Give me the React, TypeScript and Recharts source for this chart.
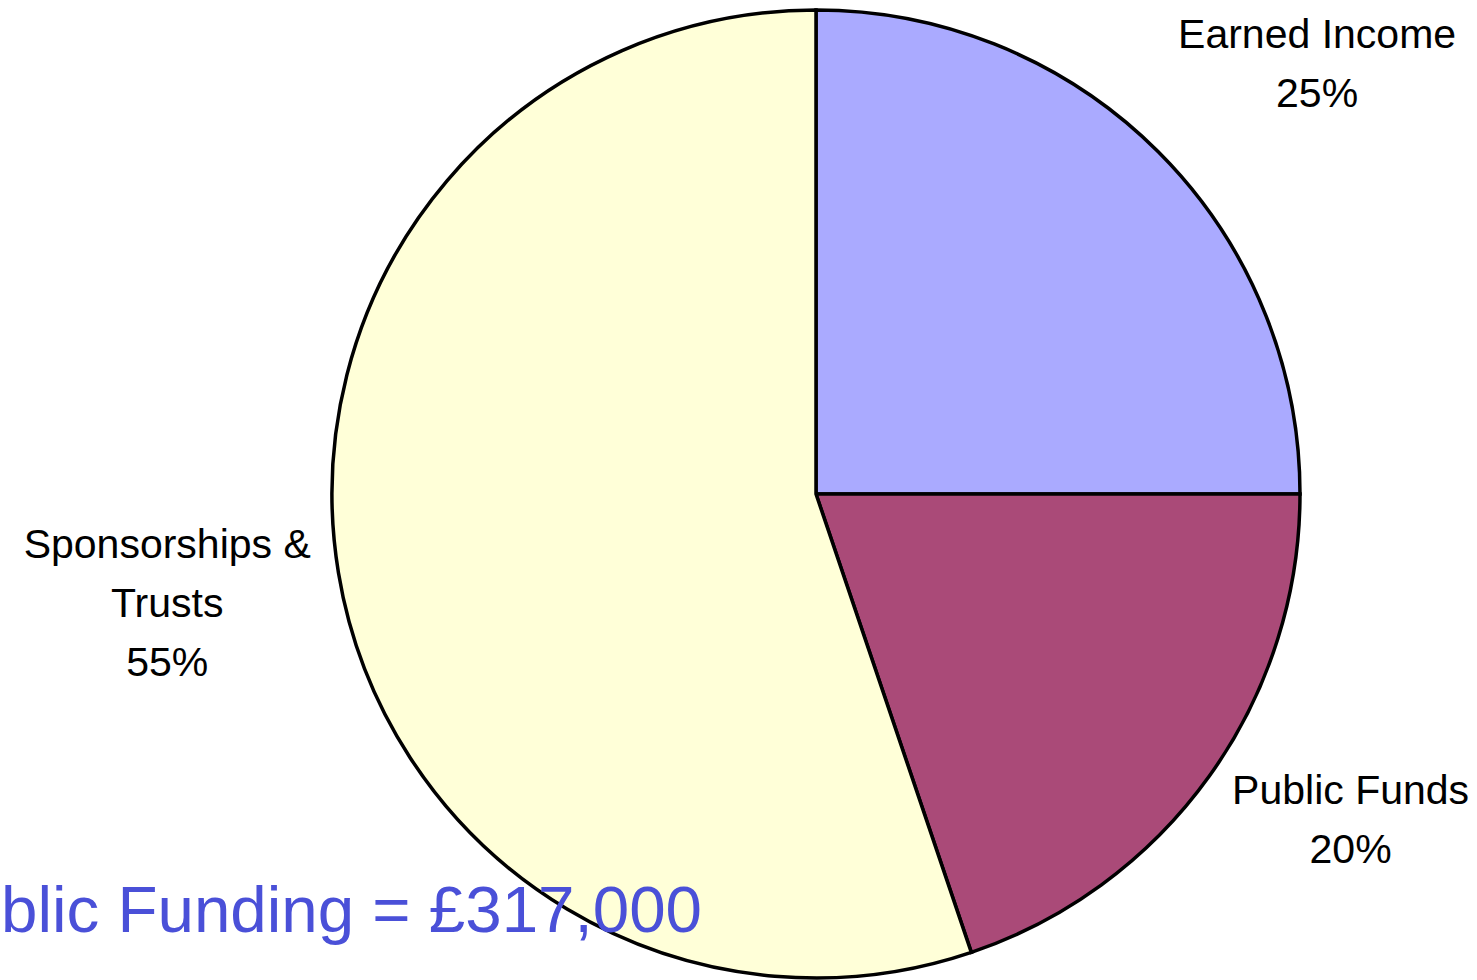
import React from 'react';
import { PieChart, Pie, Cell } from 'recharts';

const categories = ['Earned Income', 'Public Funds', 'Sponsorships & Trusts'];
const shares = [25, 19.8, 55.2];
const sliceColors = ['#AAAAFF', '#AA4A78', '#FFFFD8'];
const title = 'Public Funding = £317,000';

const data = categories.map((name, i) => ({ name, value: shares[i] }));

const FONT = '"Liberation Sans", Arial, sans-serif';
const LABEL_SIZE = 41;
const LINE_GAP = 59;

let ctx: CanvasRenderingContext2D | null = null;
function textWidth(s: string) {
  if (!ctx) ctx = document.createElement('canvas').getContext('2d');
  if (!ctx) return s.length * LABEL_SIZE * 0.55;
  ctx.font = `${LABEL_SIZE}px ${FONT}`;
  return ctx.measureText(s).width;
}

// word-wrap a category name the way the original labels break
function wrap(name: string, maxWidth: number) {
  const lines: string[] = [];
  let cur = '';
  for (const word of name.split(' ')) {
    const next = cur ? `${cur} ${word}` : word;
    if (cur && textWidth(next) > maxWidth) {
      lines.push(cur);
      cur = word;
    } else {
      cur = next;
    }
  }
  if (cur) lines.push(cur);
  return lines;
}

function renderLabel(props: any) {
  const { cx, cy, midAngle, outerRadius, percent, name } = props;
  const rad = (midAngle * Math.PI) / 180;
  const cos = Math.cos(rad);
  const sin = Math.sin(rad);
  const lines = [...wrap(name, 310), `${Math.round(percent * 100)}%`];
  const w = Math.max(...lines.map(textWidth));
  const x = cx + (outerRadius + 28) * cos + (Math.sign(cos) * w) / 2;
  // anchor sits between the first two lines
  const y = cy - outerRadius * 1.21 * sin - 17;
  const first = y - LINE_GAP / 2 + LABEL_SIZE * 0.36;
  return (
    <text textAnchor="middle" fontFamily={FONT} fontSize={LABEL_SIZE} fill="#000">
      {lines.map((line, i) => (
        <tspan key={i} x={x} y={first + i * LINE_GAP}>
          {line}
        </tspan>
      ))}
    </text>
  );
}

export default function App() {
  return (
    <div style={{ position: 'absolute', left: 0, top: 0, width: 1477, height: 980, background: '#fff' }}>
      <PieChart width={1477} height={980} margin={{ top: 0, right: 0, bottom: 0, left: 0 }}>
        <Pie
          data={data}
          dataKey="value"
          nameKey="name"
          cx={816}
          cy={494}
          outerRadius={484}
          startAngle={90}
          endAngle={-270}
          stroke="#000"
          strokeWidth={3.5}
          label={renderLabel}
          labelLine={false}
          isAnimationActive={false}
        >
          {data.map((d, i) => (
            <Cell key={d.name} fill={sliceColors[i]} />
          ))}
        </Pie>
      </PieChart>
      <svg width={1477} height={980} style={{ position: 'absolute', left: 0, top: 0, pointerEvents: 'none' }}>
        <text x={702} y={932} textAnchor="end" fontFamily={FONT} fontSize={65.5} fill="#4A50D8">
          {title}
        </text>
      </svg>
    </div>
  );
}
